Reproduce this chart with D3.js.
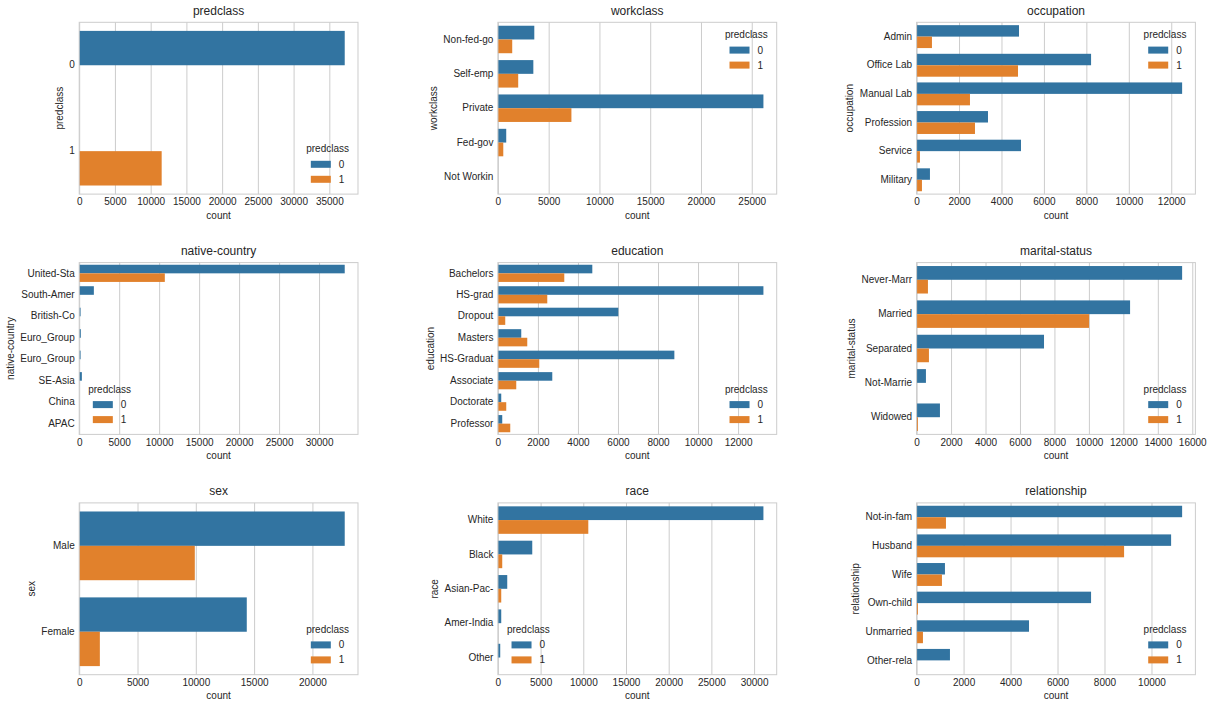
<!DOCTYPE html>
<html><head><meta charset="utf-8">
<script src="https://cdn.jsdelivr.net/npm/d3@7"></script>
<style>
body{margin:0;background:#fff;}
svg text{font-family:"Liberation Sans",Arial,sans-serif;fill:#262626;}
</style>
</head><body>
<svg id="chart" width="1213" height="709"></svg>
<script>
// ---------- data ----------
const panelNames = ["predclass","workclass","occupation","native-country","education","marital-status","sex","race","relationship"];
const hueLabels = ["0","1"];
const legendTitle = "predclass";
const xLabel = "count";

const predclassCats = ["0","1"];
const predclassCount0 = [37155, 0];
const predclassCount1 = [0, 11540];

const workclassCats = ["Non-fed-go","Self-emp","Private","Fed-gov","Not Workin"];
const workclassCount0 = [3585, 3490, 26150, 820, 0];
const workclassCount1 = [1410, 2000, 7240, 530, 0];

const occupationCats = ["Admin","Office Lab","Manual Lab","Profession","Service","Military"];
const occupationCount0 = [4826, 8222, 12513, 3364, 4920, 629];
const occupationCount1 = [723, 4779, 2515, 2751, 157, 252];

const countryCats = ["United-Sta","South-Amer","British-Co","Euro_Group","Euro_Group","SE-Asia","China","APAC"];
const countryCount0 = [33210, 1833, 170, 200, 170, 333, 0, 0];
const countryCount1 = [10709, 0, 0, 0, 0, 0, 0, 0];

const educationCats = ["Bachelors","HS-grad","Dropout","Masters","HS-Graduat","Associate","Doctorate","Professor"];
const educationCount0 = [4717, 13267, 6017, 1167, 8817, 2717, 167, 217];
const educationCount1 = [3317, 2467, 367, 1467, 2067, 917, 417, 617];

const maritalCats = ["Never-Marr","Married","Separated","Not-Marrie","Widowed"];
const maritalCount0 = [15411, 12390, 7395, 542, 1355];
const maritalCount1 = [658, 10009, 716, 0, 77];

const sexCats = ["Male","Female"];
const sexCount0 = [22771, 14371];
const sexCount1 = [9914, 1771];

const raceCats = ["White","Black","Asian-Pac-","Amer-India","Other"];
const raceCount0 = [31094, 4023, 1094, 391, 273];
const raceCount1 = [10586, 508, 391, 0, 0];

const relationshipCats = ["Not-in-fam","Husband","Wife","Own-child","Unmarried","Other-rela"];
const relationshipCount0 = [11305, 10836, 1207, 7428, 4786, 1420];
const relationshipCount1 = [1250, 8834, 1079, 57, 270, 0];

const tickSteps = [5000, 5000, 2000, 5000, 2000, 2000, 5000, 5000, 2000];

// ---------- layout / style ----------
const legendLocs = ["lower right","upper right","upper right","lower left","lower right","lower right","lower right","lower left","lower right"];
const colors = ["#3274a1", "#e1812c"];
const colLeft = [79.2, 497.9, 916.6], rowTop = [22.3, 262.6, 502.9];
const W = 278.8, H = 171.8;
const gridColor = "#cccccc";

const panels = [
  [predclassCats, predclassCount0, predclassCount1],
  [workclassCats, workclassCount0, workclassCount1],
  [occupationCats, occupationCount0, occupationCount1],
  [countryCats, countryCount0, countryCount1],
  [educationCats, educationCount0, educationCount1],
  [maritalCats, maritalCount0, maritalCount1],
  [sexCats, sexCount0, sexCount1],
  [raceCats, raceCount0, raceCount1],
  [relationshipCats, relationshipCount0, relationshipCount1]
].map((p, i) => ({name: panelNames[i], cats: p[0], series: [p[1], p[2]], step: tickSteps[i], loc: legendLocs[i]}));

const svg = d3.select("#chart");

panels.forEach((p, i) => {
  const x0 = colLeft[i % 3], y0 = rowTop[Math.floor(i / 3)];
  const g = svg.append("g").attr("transform", `translate(${x0},${y0})`);
  const maxV = d3.max(p.series.flat());
  const x = d3.scaleLinear().domain([0, maxV * 1.05]).range([0, W]);
  const idx = d3.range(p.cats.length);
  const y = d3.scaleBand().domain(idx).range([0, H]).paddingInner(0.2).paddingOuter(0.1);
  const yh = d3.scaleBand().domain([0, 1]).range([0, y.bandwidth()]);
  const ticks = d3.range(0, maxV * 1.05 + 1e-9, p.step);

  // grid
  const grid = g.append("g").attr("transform", `translate(0,${H})`)
    .call(d3.axisBottom(x).tickValues(ticks).tickSize(-H).tickFormat(""));
  grid.select(".domain").remove();
  grid.selectAll("line").attr("stroke", gridColor).attr("stroke-width", 1);

  // bars
  const rows = [];
  idx.forEach(k => [0, 1].forEach(h => rows.push({k, h, v: p.series[h][k]})));
  g.append("g").selectAll("rect").data(rows.filter(d => d.v > 0)).join("rect")
    .attr("x", x(0))
    .attr("y", d => y(d.k) + yh(d.h))
    .attr("width", d => x(d.v) - x(0))
    .attr("height", yh.bandwidth())
    .attr("fill", d => colors[d.h]);

  // frame
  g.append("rect").attr("x", 0).attr("y", 0).attr("width", W).attr("height", H)
    .attr("fill", "none").attr("stroke", gridColor).attr("stroke-width", 1);

  // x axis labels
  const gx = g.append("g").attr("transform", `translate(0,${H})`)
    .call(d3.axisBottom(x).tickValues(ticks).tickSize(0).tickPadding(4.2).tickFormat(d3.format("d")));
  gx.select(".domain").remove();
  gx.attr("font-family", null).attr("font-size", null);
  gx.selectAll("text").style("font-size", "10px");

  // y axis labels
  const gy = g.append("g")
    .call(d3.axisLeft(y).tickSize(0).tickPadding(4.5).tickFormat(k => p.cats[k]));
  gy.select(".domain").remove();
  gy.attr("font-family", null).attr("font-size", null);
  gy.selectAll("text").style("font-size", "10px");
  const bb = gy.node().getBBox();

  // axis titles
  g.append("text").attr("x", W / 2).attr("y", H + 24.7).attr("text-anchor", "middle")
    .style("font-size", "10px").text(xLabel);
  g.append("text").attr("transform", `translate(${bb.x - 6.5},${H / 2}) rotate(-90)`)
    .attr("text-anchor", "middle").style("font-size", "10px").text(p.name);
  g.append("text").attr("x", W / 2).attr("y", -7.5).attr("text-anchor", "middle")
    .style("font-size", "12px").text(p.name);

  // legend
  const lg = g.append("g");
  const tt = lg.append("text").attr("text-anchor", "middle").style("font-size", "10px").text(legendTitle);
  const tw = tt.node().getComputedTextLength();
  const labels = lg.selectAll("text.lab").data(hueLabels).join("text").attr("class", "lab")
    .style("font-size", "10px").text(d => d);
  const lw = d3.max(labels.nodes(), n => n.getComputedTextLength());
  const entryW = 20 + 8 + lw;
  const boxW = Math.max(tw, entryW);
  const cx = p.loc.includes("right") ? W - 9 - boxW / 2 : 9 + boxW / 2;
  let tb, pc;
  if (p.loc.includes("upper")) { tb = 15.8; pc = [tb + 12, tb + 27]; }
  else { const p1 = H - 14.8; pc = [p1 - 15, p1]; tb = pc[0] - 12; }
  tt.attr("x", cx).attr("y", tb);
  const ex = cx - entryW / 2;
  lg.selectAll("rect").data(hueLabels).join("rect")
    .attr("x", ex).attr("y", (d, j) => pc[j] - 3.5).attr("width", 20).attr("height", 7)
    .attr("fill", (d, j) => colors[j]);
  labels.attr("x", ex + 28).attr("y", (d, j) => pc[j]).attr("dy", "0.36em");
});
</script>
</body></html>
